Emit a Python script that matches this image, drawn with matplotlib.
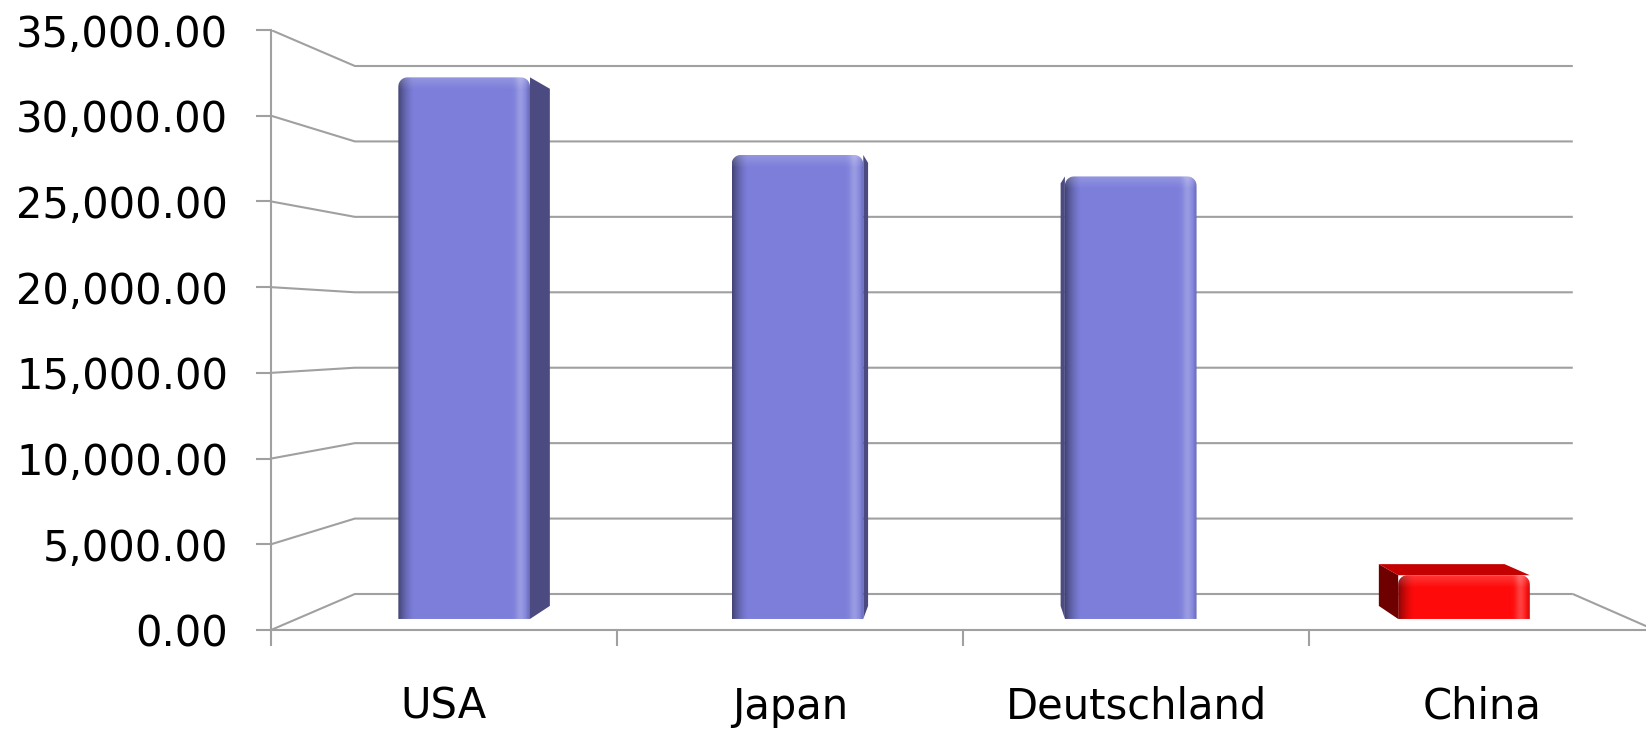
import numpy as np
import matplotlib.pyplot as plt
from matplotlib.path import Path
from matplotlib.patches import Polygon, PathPatch
from matplotlib.colors import to_rgb

countries = ["USA", "Japan", "Deutschland", "China"]
values = [32800, 28100, 26800, 2650]
front_colors = ["#7C7EDA", "#7C7EDA", "#7C7EDA", "#FF0A0A"]
side_colors = ["#4B4B82", "#4B4B82", "#4B4B82", "#6E0000"]
top_colors = ["#6466C0", "#6466C0", "#6466C0", "#C40000"]
y_ticks = np.arange(0, 35001, 5000)

# simple perspective: front plane is the axes, back wall shrinks toward VX, VY
VX, VY = 2.02, 17500
BACK_SCALE = 0.88
D_FRONT, D_BACK = 0.28, 0.64


def project(x, v, d):
    s = 1.0 / (1.0 + d * (1.0 / BACK_SCALE - 1.0))
    return VX + s * (x - VX), VY + s * (v - VY)


def shade(rgb, w, h):
    xs = np.arange(w)[None, :, None].astype(float)
    ys = np.arange(h)[:, None, None].astype(float)
    img = np.ones((h, w, 3)) * np.array(rgb)
    left = np.clip(1 - xs / 16, 0, 1) ** 1.5
    right = np.exp(-((w - 1 - xs - 9) / 5.0) ** 2)
    edge = np.clip(1 - (w - 1 - xs) / 4, 0, 1)
    top = np.clip(1 - ys / 12, 0, 1)
    img = img * (1 - 0.45 * left) * (1 - 0.15 * edge)
    img = img + (1 - img) * np.clip(0.22 * right + 0.18 * top, 0, 1)
    return np.clip(img, 0, 1)


def rounded_top(x0, x1, y0, y1, rx, ry):
    t = np.linspace(0, np.pi / 2, 8)
    verts = [(x0, y0), (x1, y0), (x1, y1 - ry)]
    verts += [(x1 - rx + rx * np.cos(a), y1 - ry + ry * np.sin(a)) for a in t]
    verts += [(x0 + rx - rx * np.cos(a), y1 - ry + ry * np.sin(a)) for a in t[::-1]]
    verts.append((x0, y0))
    codes = [Path.MOVETO] + [Path.LINETO] * (len(verts) - 2) + [Path.CLOSEPOLY]
    return Path(verts, codes)


W, H = 1646, 729
left_px, bottom_px, w_px, h_px = 271, 99, 1384, 600
fig = plt.figure(figsize=(W / 100, H / 100), dpi=100)
ax = fig.add_axes([left_px / W, bottom_px / H, w_px / W, h_px / H])
ux = 4 / w_px
uy = 35000 / h_px

grid_kw = dict(color="#A0A0A0", lw=1.5, zorder=1, solid_capstyle="butt")
# left wall gridlines running into the back wall
for v in y_ticks:
    bx0, by0 = project(0, v, 1)
    bx1, by1 = project(4, v, 1)
    ax.plot([0, bx0, bx1], [v, by0, by1], **grid_kw)
fx, fy = project(4, 0, 1)
ax.plot([fx, 4], [fy, 0], **grid_kw)

for i, val in enumerate(values):
    c = i + 0.5
    x0, x1 = c - 0.195, c + 0.2
    xs = x1 if c < VX else x0
    side = [project(xs, 0, D_FRONT), project(xs, 0, D_BACK),
            project(xs, val, D_BACK), project(xs, val, D_FRONT)]
    ax.add_patch(Polygon(side, closed=True, fc=side_colors[i], ec="none", zorder=2))
    if val < VY:
        top = [project(x0, val, D_FRONT), project(x1, val, D_FRONT),
               project(x1, val, D_BACK), project(x0, val, D_BACK)]
        ax.add_patch(Polygon(top, closed=True, fc=top_colors[i], ec="none", zorder=2))

    fx0, fy0 = project(x0, 0, D_FRONT)
    fx1, fy1 = project(x1, val, D_FRONT)
    pw = max(int(round((fx1 - fx0) / ux)), 2)
    ph = max(int(round((fy1 - fy0) / uy)), 2)
    img = ax.imshow(shade(to_rgb(front_colors[i]), pw, ph), extent=[fx0, fx1, fy0, fy1],
                    origin="upper", aspect="auto", interpolation="bilinear", zorder=3)
    clip = PathPatch(rounded_top(fx0, fx1, fy0, fy1, 9 * ux, 9 * uy),
                     transform=ax.transData, fc="none", ec="none")
    ax.add_patch(clip)
    img.set_clip_path(clip)

ax.set_xlim(0, 4)
ax.set_ylim(0, 35000)

for s in ["top", "right"]:
    ax.spines[s].set_visible(False)
for s in ["left", "bottom"]:
    ax.spines[s].set_color("#A0A0A0")
    ax.spines[s].set_linewidth(1.5)

ax.set_yticks(y_ticks)
ax.set_yticklabels([f"{v:,.2f}" for v in y_ticks])
ax.tick_params(axis="y", direction="out", length=10.8, width=1.5, color="#A0A0A0",
               pad=20, labelsize=30, labelcolor="black")

ax.set_xticks([0, 1, 2, 3])
ax.set_xticklabels([])
ax.set_xticks([0.5, 1.5, 2.5, 3.5], minor=True)
ax.set_xticklabels(countries, minor=True)
ax.tick_params(axis="x", which="major", direction="out", length=11.5, width=1.5,
               color="#A0A0A0")
ax.tick_params(axis="x", which="minor", length=0, pad=40, labelsize=30, labelcolor="black")

fig.savefig("out.png", dpi=100)
